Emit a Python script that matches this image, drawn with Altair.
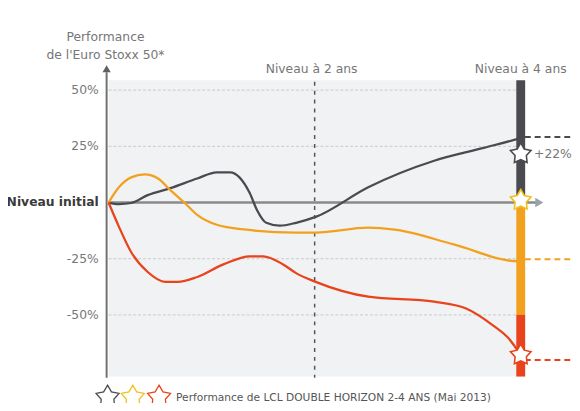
import altair as alt
import pandas as pd

# ---- data ----
# time in years (0 = start, 4 = "Niveau à 4 ans"), performance in %
dark_t = [0, 0.10, 0.22, 0.38, 0.60, 0.86, 1.05, 1.18, 1.27, 1.37, 1.44, 1.53, 1.66, 1.82, 2.01, 2.52, 3.16, 3.64, 3.97, 4.0]
dark_v = [0, -0.7, -0.2, 3.3, 6.4, 10.7, 13.4, 13.4, 11.2, 4.2, -3.3, -9.0, -10.3, -9.0, -6.4, 6.8, 18.6, 24.3, 28.3, 28.7]

orange_t = [0, 0.10, 0.22, 0.35, 0.48, 0.60, 0.74, 0.86, 1.05, 1.34, 1.82, 2.01, 2.52, 2.78, 3.35, 3.97, 4.0]
orange_v = [0, 6.8, 11.2, 12.5, 10.7, 5.5, -0.2, -5.5, -9.9, -12.1, -13.4, -13.4, -11.2, -12.1, -18.6, -26.1, -26.1]

red_t = [0, 0.10, 0.22, 0.38, 0.55, 0.67, 0.86, 1.12, 1.37, 1.50, 1.69, 1.82, 2.01, 2.52, 3.16, 3.47, 3.73, 3.88, 4.0]
red_v = [0, -10.7, -22.1, -30.9, -35.3, -35.3, -33.1, -27.4, -23.9, -23.9, -27.4, -31.4, -35.3, -41.9, -44.1, -47.1, -54.6, -60.3, -67.8]

series_colors = ["#4a4a50", "#f2a11f", "#e8431c"]
star_strokes = ["#4a4a50", "#f0c020", "#e8431c"]

tick_values = [50, 25, -25, -50]
tick_labels = ["50%", "25%", "-25%", "-50%"]
zero_label = "Niveau initial"

star_values = [21.7, 1.0, -67.8]
end_levels = [29.2, -25.2, -70.0]
star_label = "+22%"

bar_from = [54.4, 0, -50]
bar_to = [0, -50, -77.4]

title_lines = ["Performance", "de l'Euro Stoxx 50*"]
milestones_t = [1.97, 4.0]
milestones = ["Niveau à 2 ans", "Niveau à 4 ans"]
legend_star_t = [-0.01, 0.235, 0.49]
legend_text = "Performance de LCL DOUBLE HORIZON 2-4 ANS (Mai 2013)"

STAR = ("M0,-1L0.3233,-0.445L0.9511,-0.309L0.5231,0.17L0.5878,0.809L0,0.55"
        "L-0.5878,0.809L-0.5231,0.17L-0.9511,-0.309L-0.3233,-0.445Z")

# ---- scales ----
xs = alt.Scale(domain=[-0.9761, 4.4976], nice=False, zero=False)
ys = alt.Scale(domain=[-87.939, 85.307], nice=False, zero=False)
FONT = "DejaVu Sans"
GREY = "#767676"


def X(f="t"):
    return alt.X(f"{f}:Q", scale=xs, axis=None)


def Y(f="v"):
    return alt.Y(f"{f}:Q", scale=ys, axis=None)


layers = []

# background panel
layers.append(alt.Chart(pd.DataFrame({"t": [0], "t2": [4], "v": [54.4], "v2": [-77.4]})).mark_rect(
    color="#f1f2f4"
).encode(x=X(), x2="t2:Q", y=Y(), y2="v2:Q"))

# gridlines
layers.append(alt.Chart(pd.DataFrame({"v": tick_values, "t": [0] * 4, "t2": [4] * 4})).mark_rule(
    color="#c9c9c9", strokeWidth=1, strokeDash=[3, 2]
).encode(x=X(), x2="t2:Q", y=Y()))

# vertical dotted "2 ans" line
layers.append(alt.Chart(pd.DataFrame({"t": [2], "v": [53.7], "v2": [-77.9]})).mark_rule(
    color="#555555", strokeWidth=1.5, strokeDash=[4, 5]
).encode(x=X(), y=Y(), y2="v2:Q"))

# zero axis with arrow
layers.append(alt.Chart(pd.DataFrame({"t": [0], "t2": [4.16], "v": [0]})).mark_rule(
    color="#8a8a8a", strokeWidth=2.5
).encode(x=X(), x2="t2:Q", y=Y()))
layers.append(alt.Chart(pd.DataFrame({"t": [4.18], "v": [0]})).mark_point(
    shape="triangle-right", filled=True, color="#9aa3ab", size=90, opacity=1
).encode(x=X(), y=Y()))

# y axis line with arrow
layers.append(alt.Chart(pd.DataFrame({"t": [-0.019], "v": [-77.9], "v2": [58.0]})).mark_rule(
    color="#707070", strokeWidth=2
).encode(x=X(), y=Y(), y2="v2:Q"))
layers.append(alt.Chart(pd.DataFrame({"t": [-0.019], "v": [59.5]})).mark_point(
    shape="triangle-up", filled=True, color="#606060", size=70, opacity=1
).encode(x=X(), y=Y()))

# coloured bar at 4 years + dashed level lines
for i in range(3):
    layers.append(alt.Chart(pd.DataFrame({"t": [4.0], "v": [bar_from[i]], "v2": [bar_to[i]]})).mark_rule(
        strokeWidth=9, strokeCap="butt", color=series_colors[i]
    ).encode(x=X(), y=Y(), y2="v2:Q"))
    layers.append(alt.Chart(pd.DataFrame({"t": [4.04], "t2": [4.5], "v": [end_levels[i]]})).mark_rule(
        strokeWidth=2, strokeDash=[6, 4], color=series_colors[i]
    ).encode(x=X(), x2="t2:Q", y=Y()))

# lines
for ts, vs, c in zip([dark_t, orange_t, red_t], [dark_v, orange_v, red_v], series_colors):
    layers.append(alt.Chart(pd.DataFrame({"t": ts, "v": vs})).mark_line(
        interpolate="monotone", strokeWidth=2.3, color=c
    ).encode(x=X(), y=Y()))

# stars on the bar and in the legend
for i in range(3):
    layers.append(alt.Chart(pd.DataFrame({"t": [4.0], "v": [star_values[i]]})).mark_point(
        shape=STAR, filled=True, fill="white", fillOpacity=1, stroke=star_strokes[i],
        size=480, strokeWidth=1.6, opacity=1
    ).encode(x=X(), y=Y()))
    layers.append(alt.Chart(pd.DataFrame({"t": [legend_star_t[i]], "v": [-86.6]})).mark_point(
        shape=STAR, filled=True, fill="white", fillOpacity=1, stroke=star_strokes[i],
        size=600, strokeWidth=1.3, opacity=1
    ).encode(x=X(), y=Y()))

layers.append(alt.Chart(pd.DataFrame({"t": [4.13], "v": [star_values[0]], "txt": [star_label]})).mark_text(
    align="left", baseline="middle", font=FONT, fontSize=12.5, color=GREY
).encode(x=X(), y=Y(), text="txt:N"))

# tick labels
layers.append(alt.Chart(pd.DataFrame({"t": [-0.096] * 4, "v": tick_values, "txt": tick_labels})).mark_text(
    align="right", baseline="middle", font=FONT, fontSize=12.5, color=GREY
).encode(x=X(), y=Y(), text="txt:N"))
layers.append(alt.Chart(pd.DataFrame({"t": [-0.096], "v": [0], "txt": [zero_label]})).mark_text(
    align="right", baseline="middle", font=FONT, fontSize=12.5, fontWeight="bold", color="#3a3a3a"
).encode(x=X(), y=Y(), text="txt:N"))

# title
layers.append(alt.Chart(pd.DataFrame({"t": [-0.03, -0.03], "v": [73.6, 65.6], "txt": title_lines})).mark_text(
    align="center", baseline="middle", font=FONT, fontSize=12.5, color=GREY
).encode(x=X(), y=Y(), text="txt:N"))

# milestones
layers.append(alt.Chart(pd.DataFrame({"t": milestones_t, "v": [59.5, 59.5], "txt": milestones})).mark_text(
    align="center", baseline="middle", font=FONT, fontSize=12.5, color=GREY
).encode(x=X(), y=Y(), text="txt:N"))

# legend text
layers.append(alt.Chart(pd.DataFrame({"t": [0.655], "v": [-86.8], "txt": [legend_text]})).mark_text(
    align="left", baseline="middle", font=FONT, fontSize=10.8, color="#555555"
).encode(x=X(), y=Y(), text="txt:N"))

chart = alt.layer(*layers).properties(
    width=572, height=395, autosize=alt.AutoSizeParams(type="none"), padding=0, background="white"
).configure_view(stroke=None)

chart.save("out.html", embed_options={"renderer": "svg", "actions": False})
